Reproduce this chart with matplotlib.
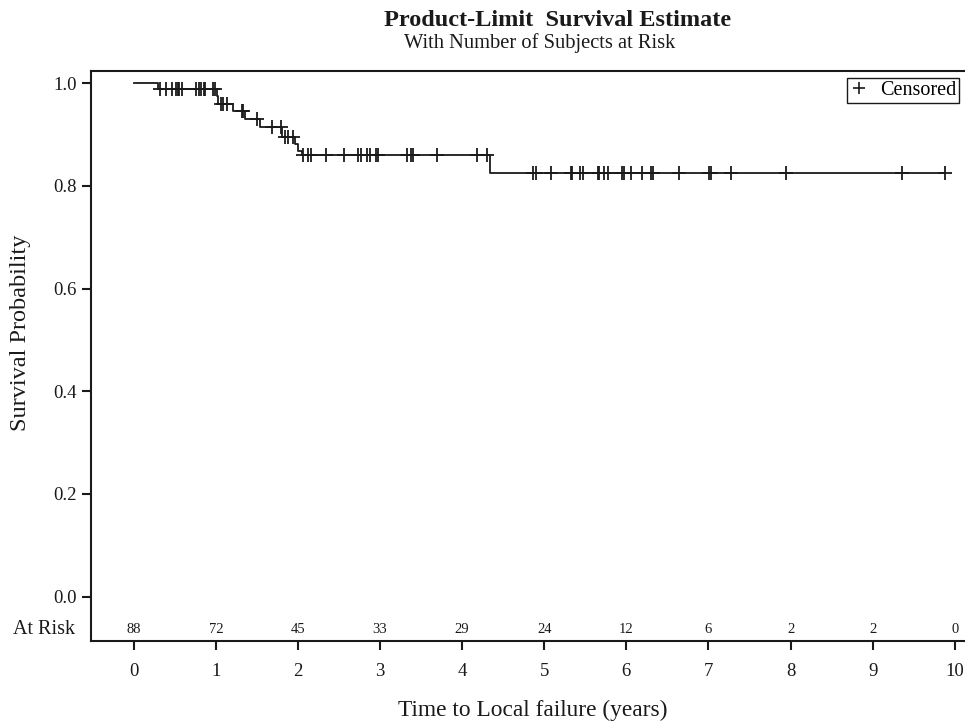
import numpy as np
import matplotlib
matplotlib.use("Agg")
import matplotlib.pyplot as plt
from matplotlib.lines import Line2D

plt.rcParams['font.family'] = ['Liberation Serif', 'DejaVu Serif']

# Kaplan-Meier step function (time of step, survival after step)
step_times = [0.0, 0.30, 1.01, 1.03, 1.21, 1.36, 1.54, 1.81, 1.96, 2.00, 2.05, 4.34]
step_surv = [1.0, 0.9886, 0.975, 0.960, 0.946, 0.931, 0.915, 0.895, 0.881, 0.869, 0.860, 0.826]
end_time = 9.88

# censored observation times
censor_times = [0.32, 0.39, 0.46, 0.515, 0.536, 0.555, 0.59, 0.76, 0.79, 0.82, 0.85, 0.87, 0.97, 0.99,
                1.06, 1.09, 1.13, 1.315, 1.335, 1.50, 1.68, 1.79, 1.84, 1.88, 1.94,
                2.066, 2.127, 2.156, 2.342, 2.56, 2.736, 2.765, 2.845, 2.878, 2.95, 2.98,
                3.325, 3.374, 3.398, 3.69, 4.178, 4.307,
                4.867, 4.90, 5.08, 5.32, 5.34, 5.436, 5.476, 5.65, 5.67, 5.728, 5.78,
                5.944, 5.972, 6.054, 6.188, 6.297, 6.329, 6.645, 7.011, 7.028, 7.272,
                7.945, 9.362, 9.882]

# number at risk
risk_times = [0, 1, 2, 3, 4, 5, 6, 7, 8, 9, 10]
risk_counts = [88, 72, 45, 33, 29, 24, 12, 6, 2, 2, 0]

xticks = [0, 1, 2, 3, 4, 5, 6, 7, 8, 9, 10]
yticks = [0.0, 0.2, 0.4, 0.6, 0.8, 1.0]

W, H = 965, 721
INK = '#1a1a1a'
fig = plt.figure(figsize=(W / 100, H / 100), dpi=100)
ax = fig.add_axes([91 / W, 1 - 641 / H, (W - 91) / W + 0.01, 570 / H])

# step line
xs = list(step_times) + [end_time]
ys = list(step_surv) + [step_surv[-1]]
ax.step(xs, ys, where='post', color=INK, lw=1.3)

# censor marks
st = np.array(step_times)
sv = np.array(step_surv)
ct = np.array(censor_times)
cy = sv[np.searchsorted(st, ct, side='right') - 1]
ax.plot(ct, cy, linestyle='None', marker='+', markersize=10, markeredgewidth=1.3, color=INK)

ax.set_xlim(-0.521, 10.125 + 0.01 * W / 82.1)
ax.set_ylim(-0.0867, 1.024)
ax.set_xticks(xticks)
ax.set_xticklabels([str(v) for v in xticks])
ax.set_yticks(yticks)
ax.set_yticklabels([f"{v:.1f}" for v in yticks])
ax.tick_params(axis='both', direction='out', length=6.5, width=1.5, labelsize=13.5, color=INK,
               labelcolor=INK)
ax.tick_params(axis='x', pad=9)
ax.tick_params(axis='y', pad=4)
for s in ['left', 'bottom', 'top']:
    ax.spines[s].set_linewidth(1.5)
    ax.spines[s].set_color(INK)
ax.spines['right'].set_visible(False)

# at risk row
for t, n in zip(risk_times, risk_counts):
    ax.text(t, -0.065, str(n), ha='center', va='center', fontsize=10.5, color=INK)
fig.text(75 / W, 1 - 630 / H, 'At Risk', ha='right', va='center', fontsize=14.5, color=INK)

# legend
h = Line2D([], [], linestyle='None', marker='+', markersize=9, markeredgewidth=1.2, color=INK)
leg = ax.legend([h], ['Censored'], loc='upper right', bbox_to_anchor=(959 / W, 1 - 78 / H),
                bbox_transform=fig.transFigure, fontsize=14.5, fancybox=False, framealpha=1,
                edgecolor=INK, handlelength=0.9, handletextpad=0.6, borderpad=0.15,
                borderaxespad=0)
leg.get_frame().set_linewidth(1.0)

# titles and labels
fig.text(558 / W, 1 - 20 / H, 'Product-Limit  Survival Estimate', ha='center', va='center',
         fontsize=17.5, fontweight='bold', color=INK)
fig.text(540 / W, 1 - 43 / H, 'With Number of Subjects at Risk', ha='center', va='center',
         fontsize=14.8, color=INK)
fig.text(21 / W, 1 - 333 / H, 'Survival Probability', rotation=90, ha='center', va='center',
         fontsize=17.5, color=INK)
fig.text(533 / W, 1 - 710 / H, 'Time to Local failure (years)', ha='center', va='center',
         fontsize=16.8, color=INK)

fig.savefig('out.png', dpi=100)
